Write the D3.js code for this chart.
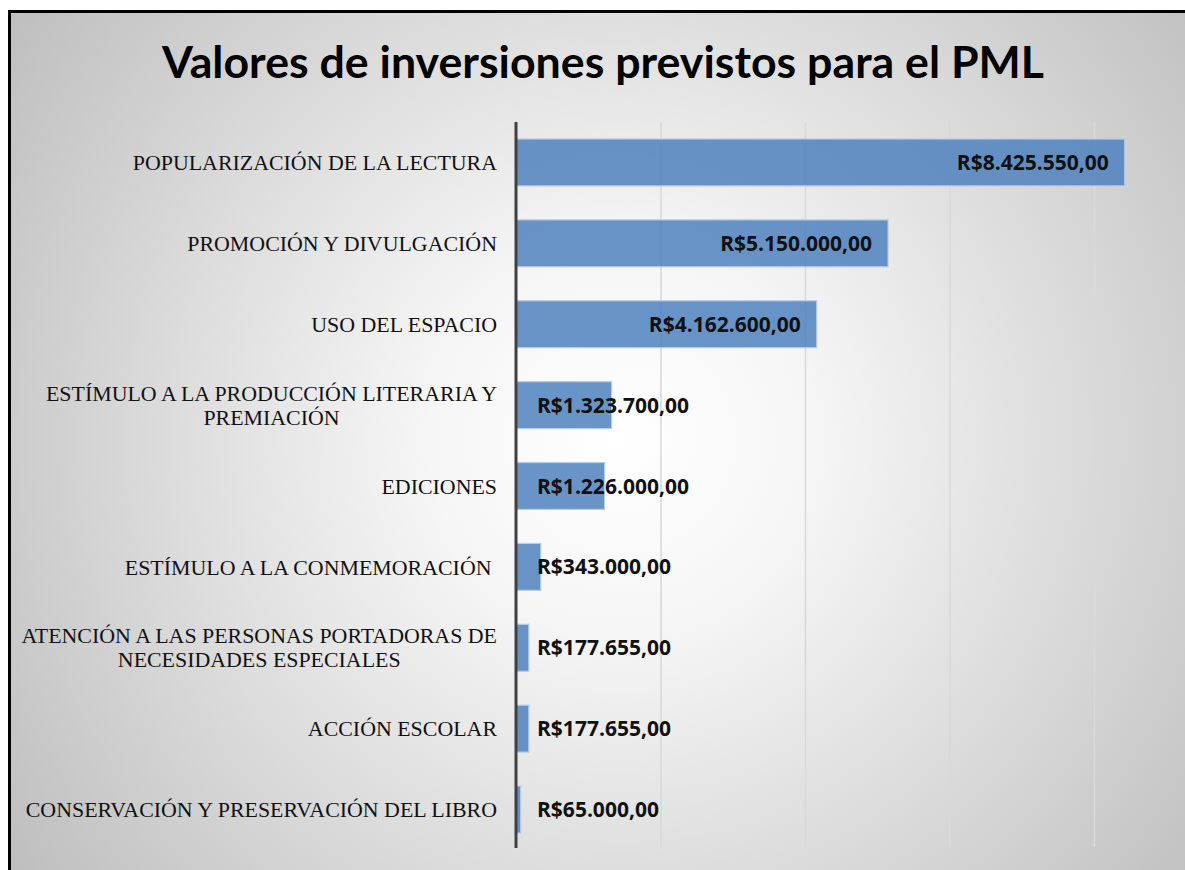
<!DOCTYPE html>
<html>
<head>
<meta charset="utf-8">
<script src="https://cdn.jsdelivr.net/npm/d3@7"></script>
<style>
	body { margin: 0; background: #fff; }
	.cat { font-family: "Liberation Serif", "Times New Roman", serif; font-size: 21.9px; fill: #111; white-space: pre; }
	.val { font-family: "Open Sans", sans-serif; font-weight: bold; font-size: 21px; fill: #111; }
	.title { font-family: Lato, sans-serif; font-weight: bold; font-size: 44.7px; fill: #000; }
</style>
</head>
<body>
<div class="chart1"></div>
<script>
var width = 1185;
var height = 870;

var svg = d3.select("body").select(".chart1").append("svg")
	.attr("width", width)
	.attr("height", height);

var datos = [
	{cat: ["POPULARIZACIÓN DE LA LECTURA"], valor: 8425550},
	{cat: ["PROMOCIÓN Y DIVULGACIÓN"], valor: 5150000},
	{cat: ["USO DEL ESPACIO"], valor: 4162600},
	{cat: ["ESTÍMULO A LA PRODUCCIÓN LITERARIA Y", "PREMIACIÓN"], valor: 1323700},
	{cat: ["EDICIONES"], valor: 1226000},
	{cat: ["ESTÍMULO A LA CONMEMORACIÓN "], valor: 343000},
	{cat: ["ATENCIÓN A LAS PERSONAS PORTADORAS DE", "NECESIDADES ESPECIALES"], valor: 177655},
	{cat: ["ACCIÓN ESCOLAR"], valor: 177655},
	{cat: ["CONSERVACIÓN Y PRESERVACIÓN DEL LIBRO"], valor: 65000}
];

var defs = svg.append("defs");
var bg = defs.append("radialGradient")
	.attr("id", "fondo")
	.attr("gradientUnits", "userSpaceOnUse")
	.attr("cx", 620).attr("cy", 440).attr("r", 760);
bg.append("stop").attr("offset", "0%").attr("stop-color", "#ffffff");
bg.append("stop").attr("offset", "25%").attr("stop-color", "#f6f6f6");
bg.append("stop").attr("offset", "100%").attr("stop-color", "#bdbdbd");

var gl = defs.append("linearGradient")
	.attr("id", "grid")
	.attr("gradientUnits", "userSpaceOnUse")
	.attr("x1", 0).attr("y1", 122).attr("x2", 0).attr("y2", 847);
gl.append("stop").attr("offset", "0%").attr("stop-color", "#d9d9d9");
gl.append("stop").attr("offset", "60%").attr("stop-color", "#c4c4c4");
gl.append("stop").attr("offset", "100%").attr("stop-color", "#8c8c8c");

// marco
svg.append("rect")
	.attr("x", 9.5)
	.attr("y", 11.5)
	.attr("width", 1200)
	.attr("height", 900)
	.attr("fill", "url(#fondo)")
	.attr("stroke", "#000")
	.attr("stroke-width", 3);

svg.append("text")
	.attr("class", "title")
	.attr("x", 603)
	.attr("y", 78)
	.attr("text-anchor", "middle")
	.text("Valores de inversiones previstos para el PML");

var x = d3.scaleLinear()
	.domain([0, 10000000])
	.range([516, 1238.5]);

var y = d3.scaleBand()
	.domain(datos.map(function(d){ return d.cat.join(" "); }))
	.range([122, 850])
	.paddingInner(0.42)
	.paddingOuter(0.21);

var xAxis = d3.axisBottom(x)
	.tickValues([2000000, 4000000, 6000000, 8000000])
	.tickSize(-(847 - 122))
	.tickFormat("");

var gx = svg.append("g")
	.attr("transform", "translate(0,847)")
	.call(xAxis);
gx.select(".domain").remove();
gx.selectAll(".tick line")
	.attr("stroke", "url(#grid)")
	.attr("stroke-width", 1.6);

var fmt = function(v){
	var s = d3.format(",.2f")(v);
	return "R$" + s.replace(/,/g, "#").replace(/\./g, ",").replace(/#/g, ".");
};

var barras = svg.selectAll(".barra")
	.data(datos)
	.enter().append("rect")
		.attr("class", "barra")
		.attr("x", x(0))
		.attr("y", function(d){ return y(d.cat.join(" ")); })
		.attr("width", function(d){ return x(d.valor) - x(0); })
		.attr("height", y.bandwidth())
		.attr("fill", "rgb(79,129,189)")
		.attr("fill-opacity", 0.85)
		.attr("stroke", "#b9cde6")
		.attr("stroke-width", 1.2);

svg.append("line")
	.attr("x1", x(0)).attr("x2", x(0))
	.attr("y1", 122).attr("y2", 848)
	.attr("stroke", "#404040")
	.attr("stroke-width", 3);

svg.selectAll(".val")
	.data(datos)
	.enter().append("text")
		.attr("class", "val")
		.attr("x", function(d){ return d.valor > 3000000 ? x(d.valor) - 16 : 537; })
		.attr("y", function(d){ return y(d.cat.join(" ")) + y.bandwidth() / 2; })
		.attr("dy", "0.36em")
		.attr("text-anchor", function(d){ return d.valor > 3000000 ? "end" : "start"; })
		.text(function(d){ return fmt(d.valor); });

svg.selectAll(".cat")
	.data(datos)
	.enter().append("text")
		.attr("class", "cat")
		.each(function(d){
			var t = d3.select(this);
			var cy = y(d.cat.join(" ")) + y.bandwidth() / 2;
			if (d.cat.length == 1) {
				t.attr("x", 497).attr("y", cy).attr("dy", "0.35em")
					.attr("text-anchor", "end").text(d.cat[0]);
			} else {
				t.attr("text-anchor", "middle");
				var w = 0;
				var lines = d.cat.map(function(l, i){
					return t.append("tspan").attr("y", cy - 12 + i * 24).attr("dy", "0.35em").text(l);
				});
				w = lines[0].node().getComputedTextLength();
				lines.forEach(function(l){ l.attr("x", 497 - w / 2); });
			}
		});
</script>
</body>
</html>
